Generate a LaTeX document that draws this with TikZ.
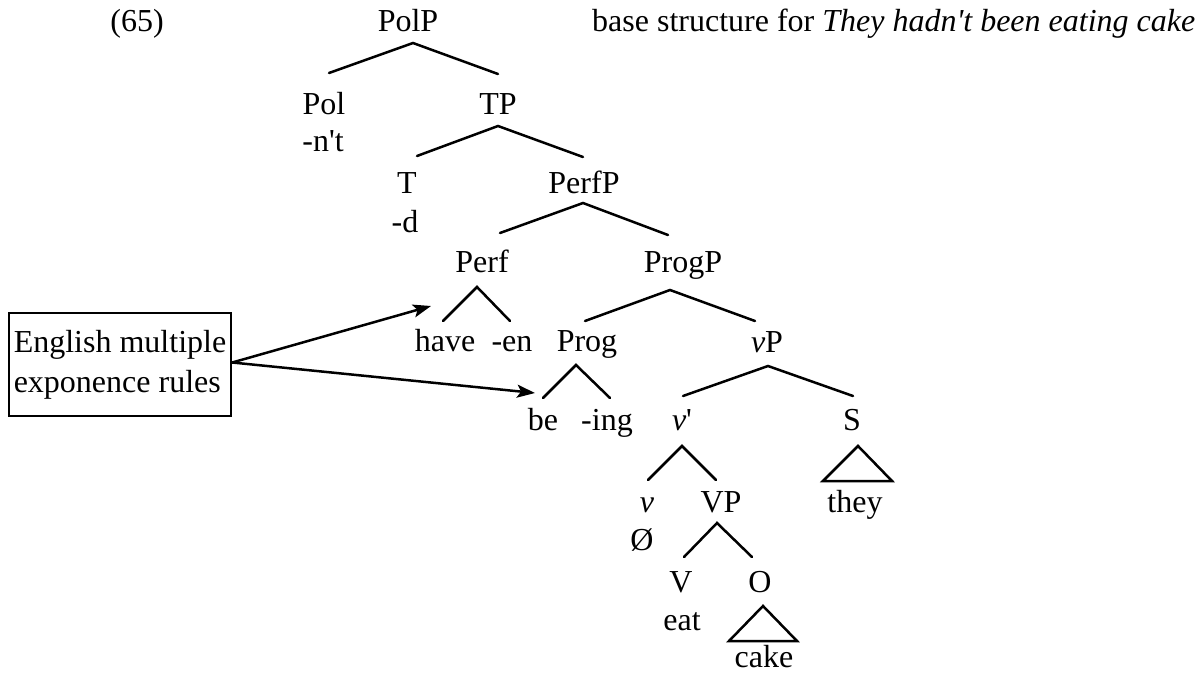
\documentclass[tikz,border=0pt]{standalone}
\usepackage{fontspec}
\setmainfont{Liberation Serif}
\usetikzlibrary{arrows.meta}
\begin{document}
\begin{tikzpicture}[x=1pt,y=-1pt,
  lab/.style={inner sep=0pt,anchor=base,font=\fontsize{32}{40}\selectfont},
  br/.style={line width=2.5pt,line cap=round,line join=miter},
  arr/.style={line width=2.5pt,-{Stealth[length=18pt,width=13pt,inset=4pt]}},
  rulebox/.style={draw,line width=2.5pt,inner sep=0pt,minimum width=222pt,minimum height=103pt,
    align=left,font=\fontsize{32}{40}\selectfont}]
\useasboundingbox (0,0) rectangle (1199,674);
% labels
\node[lab] (ex) at (137,32) {(65)};
\node[lab,anchor=base west] (title) at (592,32) {base structure for \textit{They hadn\textquotesingle t been eating cake}};
\node[lab] (PolP) at (408,32) {PolP};
\node[lab] (Pol) at (324,115) {Pol};
\node[lab] (nt) at (323,152) {-n\textquotesingle t};
\node[lab] (TP) at (498,115) {TP};
\node[lab] (T) at (407,193) {T};
\node[lab] (d) at (405,232) {-d};
\node[lab] (PerfP) at (584,193) {PerfP};
\node[lab] (Perf) at (482,272) {Perf};
\node[lab] (ProgP) at (683,272) {ProgP};
\node[lab] (have) at (445,351) {have};
\node[lab] (en) at (512,351) {-en};
\node[lab] (Prog) at (587,351) {Prog};
\node[lab] (vP) at (767,352) {\textit{v}P};
\node[lab] (be) at (543,430) {be};
\node[lab] (ing) at (607,430) {-ing};
\node[lab] (vbar) at (682,430) {\textit{v}\textquotesingle};
\node[lab] (S) at (852,430) {S};
\node[lab] (v) at (647,512) {\textit{v}};
\node[lab] (VP) at (721,512) {VP};
\node[lab] (they) at (855,512) {they};
\node[lab] (null) at (642,550) {Ø};
\node[lab] (V) at (681,592) {V};
\node[lab] (O) at (760,592) {O};
\node[lab] (eat) at (682,630) {eat};
\node[lab] (cake) at (764,667) {cake};
\node[rulebox] (rules) at (120,364.5) {English multiple\\exponence rules};
% branches
\draw[br] ([shift={(5,-42)}]Pol.base) -- ([shift={(5,11)}]PolP.base) -- ([shift={(0,-41)}]TP.base);
\draw[br] ([shift={(10,-37)}]T.base) -- ([shift={(0,11)}]TP.base) -- ([shift={(-1,-36)}]PerfP.base);
\draw[br] ([shift={(18,-39)}]Perf.base) -- ([shift={(-1,10)}]PerfP.base) -- ([shift={(-15,-37)}]ProgP.base);
\draw[br] ([shift={(-2,-30)}]have.base) -- ([shift={(-5,15)}]Perf.base) -- ([shift={(-2,-30)}]en.base);
\draw[br] ([shift={(-2,-30)}]Prog.base) -- ([shift={(-13,18)}]ProgP.base) -- ([shift={(-12,-31)}]vP.base);
\draw[br] ([shift={(0,-32)}]be.base) -- ([shift={(-11,14)}]Prog.base) -- ([shift={(3,-32)}]ing.base);
\draw[br] ([shift={(1,-34)}]vbar.base) -- ([shift={(1,14)}]vP.base) -- ([shift={(1,-34)}]S.base);
\draw[br] ([shift={(1,-32)}]v.base) -- ([shift={(0,16)}]vbar.base) -- ([shift={(-5,-32)}]VP.base);
\draw[br] ([shift={(3,-35)}]V.base) -- ([shift={(-4,11)}]VP.base) -- ([shift={(-8,-35)}]O.base);
\draw[br] ([shift={(3,-66)}]they.base) -- ([shift={(-32,-31)}]they.base) -- ([shift={(37,-31)}]they.base) -- cycle;
\draw[br] ([shift={(-1,-61)}]cake.base) -- ([shift={(-35,-26)}]cake.base) -- ([shift={(33,-26)}]cake.base) -- cycle;
% arrows
\draw[arr] ([yshift=2pt]rules.east) -- ([shift={(-14,-45)}]have.base);
\draw[arr] ([yshift=2pt]rules.east) -- ([shift={(-8,-37)}]be.base);
\end{tikzpicture}
\end{document}
